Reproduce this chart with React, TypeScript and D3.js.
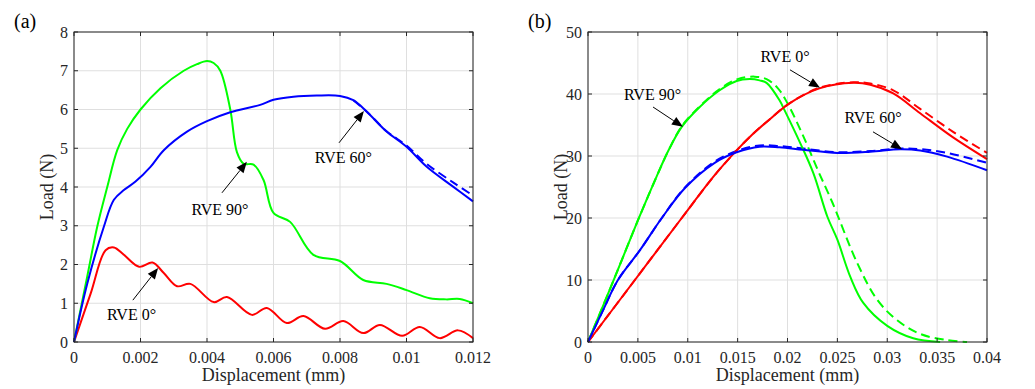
import * as d3 from "d3";

type P = [number, number];

// ---- panel (a): load vs displacement
const aRed: P[] = [
  [0, 0], [0.0005, 1.25], [0.00095, 2.37], [0.0012, 2.44], [0.0015, 2.25],
  [0.00196, 1.94], [0.00236, 2.05], [0.0027, 1.78], [0.0031, 1.44], [0.0035, 1.5],
  [0.0042, 1.03], [0.0046, 1.16], [0.00535, 0.7], [0.0058, 0.88], [0.0064, 0.49],
  [0.0069, 0.67], [0.00755, 0.34], [0.0081, 0.54], [0.0087, 0.23], [0.0092, 0.44],
  [0.00987, 0.16], [0.0104, 0.39], [0.011, 0.1], [0.01155, 0.3], [0.012, 0.1],
];
const aGreen: P[] = [
  [0, 0], [0.0004, 1.7], [0.0007, 2.98], [0.001, 4.0], [0.0013, 4.95], [0.0016, 5.5],
  [0.002, 6.0], [0.0026, 6.55], [0.0033, 7.0], [0.0037, 7.17], [0.004, 7.25],
  [0.0042, 7.2], [0.0044, 7.0], [0.0047, 6.0], [0.0049, 4.9], [0.0051, 4.6],
  [0.0054, 4.58], [0.0057, 4.18], [0.006, 3.33], [0.0065, 3.1], [0.0072, 2.25],
  [0.008, 2.09], [0.0087, 1.6], [0.0094, 1.5], [0.01, 1.34], [0.0107, 1.13],
  [0.0112, 1.1], [0.0116, 1.11], [0.012, 1.0],
];
const aBlue: P[] = [
  [0, 0], [0.0004, 1.51], [0.0009, 2.98], [0.0012, 3.67], [0.0015, 3.92], [0.00185, 4.14],
  [0.0023, 4.52], [0.0027, 4.95], [0.0034, 5.43], [0.004, 5.7], [0.0047, 5.93],
  [0.0056, 6.12], [0.006, 6.25], [0.0066, 6.33], [0.0073, 6.36], [0.008, 6.35],
  [0.0084, 6.24], [0.0088, 5.95], [0.0094, 5.43], [0.01, 5.04], [0.0106, 4.53],
  [0.0114, 4.01], [0.012, 3.63],
];
const aBlueDash: P[] = [
  [0.0084, 6.24], [0.0088, 5.95], [0.0094, 5.44], [0.01, 5.07], [0.0106, 4.6],
  [0.0114, 4.12], [0.012, 3.78],
];

// ---- panel (b)
const bGreen: P[] = [
  [0, 0], [0.0025, 9.7], [0.005, 19.6], [0.0068, 26.4], [0.0081, 31], [0.0094, 34.7],
  [0.0112, 37.9], [0.0132, 40.6], [0.0149, 42.1], [0.0162, 42.4], [0.0172, 42.2],
  [0.0179, 41.8], [0.0192, 39], [0.0197, 37.4], [0.0213, 32], [0.0226, 27.2],
  [0.024, 20.2], [0.025, 16.5], [0.0263, 10.5], [0.0276, 6.3], [0.03, 2.6],
  [0.0326, 0.6], [0.0353, 0],
];
const bGreenDash: P[] = [
  [0, 0], [0.0025, 9.7], [0.005, 19.6], [0.0068, 26.4], [0.0081, 31], [0.0094, 34.8],
  [0.0112, 38.0], [0.0132, 40.8], [0.015, 42.4], [0.0167, 42.8], [0.0179, 42.4],
  [0.019, 41], [0.02, 38.5], [0.0215, 33.5], [0.0231, 27.5], [0.0245, 22.5],
  [0.027, 12.7], [0.029, 6.8], [0.031, 3.5], [0.0333, 1.3], [0.036, 0.3], [0.038, 0],
];
const bBlue: P[] = [
  [0, 0], [0.0015, 5.1], [0.003, 10], [0.0052, 14.8], [0.0074, 20], [0.0097, 24.8],
  [0.0127, 28.9], [0.0149, 30.6], [0.0172, 31.5], [0.0192, 31.4], [0.0216, 31.0],
  [0.025, 30.5], [0.0283, 30.7], [0.0313, 31.1], [0.0333, 30.9], [0.036, 29.9],
  [0.04, 27.7],
];
const bBlueDash: P[] = [
  [0, 0], [0.0015, 5.1], [0.003, 10], [0.0052, 14.8], [0.0074, 20], [0.0097, 24.9],
  [0.0127, 29.1], [0.0149, 30.8], [0.0172, 31.7], [0.0192, 31.6], [0.0216, 31.2],
  [0.025, 30.6], [0.0283, 30.8], [0.0313, 31.2], [0.0333, 31.1], [0.036, 30.5],
  [0.04, 28.9],
];
const bRed: P[] = [
  [0, 0], [0.0047, 10], [0.0094, 20], [0.0127, 26.9], [0.0149, 30.9], [0.0165, 33.5],
  [0.0182, 35.9], [0.0202, 38.5], [0.0232, 40.9], [0.0266, 41.8], [0.0283, 41.5],
  [0.0306, 40.1], [0.0333, 36.9], [0.0366, 33], [0.04, 29.5],
];
const bRedDash: P[] = [
  [0, 0], [0.0047, 10], [0.0094, 20], [0.0127, 26.9], [0.0149, 30.9], [0.0165, 33.5],
  [0.0182, 35.9], [0.0202, 38.5], [0.0232, 41.0], [0.0266, 41.9], [0.0283, 41.7],
  [0.0306, 40.6], [0.0333, 37.6], [0.0366, 33.9], [0.04, 30.5],
];

const aXTicks = [0, 0.002, 0.004, 0.006, 0.008, 0.01, 0.012];
const aYTicks = [0, 1, 2, 3, 4, 5, 6, 7, 8];
const bXTicks = [0, 0.005, 0.01, 0.015, 0.02, 0.025, 0.03, 0.035, 0.04];
const bYTicks = [0, 10, 20, 30, 40, 50];

// annotation: label, text anchor point, arrow tail, arrow head (data units)
type Note = { text: string; at: P; from: P; to: P };
const aNotes: Note[] = [
  { text: "RVE 90°", at: [0.00439, 3.28], from: [0.00445, 3.85], to: [0.0052, 4.65] },
  { text: "RVE 60°", at: [0.0081, 4.62], from: [0.00797, 5.14], to: [0.00872, 5.96] },
  { text: "RVE 0°", at: [0.00173, 0.57], from: [0.00177, 1.08], to: [0.00253, 1.91] },
];
const bNotes: Note[] = [
  { text: "RVE 90°", at: [0.00647, 39.0], from: [0.00652, 37.9], to: [0.00952, 34.7] },
  { text: "RVE 0°", at: [0.01975, 45.2], from: [0.02025, 43.9], to: [0.02326, 41.0] },
  { text: "RVE 60°", at: [0.02857, 35.3], from: [0.02857, 33.9], to: [0.03148, 31.1] },
];

const FONT = "'Liberation Serif', 'Times New Roman', serif";
const GRID = "#dfdfdf";
const AXIS = "#262626";

type Series = { data: P[]; color: string; dashed?: boolean };

function Panel({
  left, top = 32, width = 399, height = 310, xMax, yMax, xTicks, yTicks, series, notes, tag,
}: {
  left: number; top?: number; width?: number; height?: number; xMax: number; yMax: number;
  xTicks: number[]; yTicks: number[]; series: Series[]; notes: Note[]; tag: string;
}) {
  const x = d3.scaleLinear([0, xMax], [left, left + width]);
  const y = d3.scaleLinear([0, yMax], [top + height, top]);
  const line = d3.line<P>(d => x(d[0]), d => Math.min(y(d[1]), top + height)).curve(d3.curveCatmullRom.alpha(0.5));
  const fmt = (v: number) => String(+v.toFixed(4));
  const bottom = top + height;
  const right = left + width;

  return (
    <g>
      <text x={left - 60} y={28} fontSize={20} fontFamily={FONT}>{tag}</text>
      {/* grid */}
      {xTicks.map((t, i) => (
        <line key={"gx" + i} x1={x(t)} x2={x(t)} y1={top} y2={bottom} stroke={GRID} strokeWidth={1} />
      ))}
      {yTicks.map((t, i) => (
        <line key={"gy" + i} x1={left} x2={right} y1={y(t)} y2={y(t)} stroke={GRID} strokeWidth={1} />
      ))}
      {/* series */}
      {series.map((s, i) => (
        <path key={i} d={line(s.data) ?? ""} fill="none" stroke={s.color} strokeWidth={2}
          strokeDasharray={s.dashed ? "9,5" : undefined} />
      ))}
      {/* box + ticks */}
      <rect x={left} y={top} width={width} height={height} fill="none" stroke={AXIS} strokeWidth={1} />
      {xTicks.map((t, i) => (
        <g key={"tx" + i}>
          <line x1={x(t)} x2={x(t)} y1={bottom} y2={bottom - 4} stroke={AXIS} />
          <line x1={x(t)} x2={x(t)} y1={top} y2={top + 4} stroke={AXIS} />
          <text x={x(t)} y={bottom + 21} textAnchor="middle" fontSize={16} fontFamily={FONT} fill={AXIS}>{fmt(t)}</text>
        </g>
      ))}
      {yTicks.map((t, i) => (
        <g key={"ty" + i}>
          <line x1={left} x2={left + 4} y1={y(t)} y2={y(t)} stroke={AXIS} />
          <line x1={right} x2={right - 4} y1={y(t)} y2={y(t)} stroke={AXIS} />
          <text x={left - 6} y={y(t) + 5.5} textAnchor="end" fontSize={16} fontFamily={FONT} fill={AXIS}>{fmt(t)}</text>
        </g>
      ))}
      <text x={(left + right) / 2} y={bottom + 39} textAnchor="middle" fontSize={18} fontFamily={FONT} fill={AXIS}>
        Displacement (mm)
      </text>
      <text transform={`translate(${left - 21},${(top + bottom) / 2}) rotate(-90)`} textAnchor="middle"
        fontSize={18} fontFamily={FONT} fill={AXIS}>Load (N)</text>
      {/* annotations */}
      {notes.map((n, i) => {
        const x1 = x(n.from[0]), y1 = y(n.from[1]), x2 = x(n.to[0]), y2 = y(n.to[1]);
        const ang = Math.atan2(y2 - y1, x2 - x1);
        const L = 11, W = 4.5;
        const bx = x2 - L * Math.cos(ang), by = y2 - L * Math.sin(ang);
        const px = -Math.sin(ang) * W, py = Math.cos(ang) * W;
        return (
          <g key={"n" + i}>
            <line x1={x1} y1={y1} x2={bx} y2={by} stroke="#000" strokeWidth={1} />
            <polygon points={`${x2},${y2} ${bx + px},${by + py} ${bx - px},${by - py}`} fill="#000" />
            <text x={x(n.at[0])} y={y(n.at[1])} textAnchor="middle" fontSize={16} fontFamily={FONT} fill="#000">{n.text}</text>
          </g>
        );
      })}
    </g>
  );
}

export default function App() {
  return (
    <svg width={1035} height={389} style={{ position: "absolute", left: 0, top: 0, background: "#fff" }}>
      <rect width={1035} height={389} fill="#fff" />
      <Panel left={74} xMax={0.012} yMax={8} xTicks={aXTicks} yTicks={aYTicks} tag="(a)" notes={aNotes}
        series={[
          { data: aBlueDash, color: "#0000ff", dashed: true },
          { data: aRed, color: "#ff0000" },
          { data: aGreen, color: "#00ff00" },
          { data: aBlue, color: "#0000ff" },
        ]} />
      <Panel left={588} xMax={0.04} yMax={50} xTicks={bXTicks} yTicks={bYTicks} tag="(b)" notes={bNotes}
        series={[
          { data: bGreenDash, color: "#00ff00", dashed: true },
          { data: bRedDash, color: "#ff0000", dashed: true },
          { data: bBlueDash, color: "#0000ff", dashed: true },
          { data: bGreen, color: "#00ff00" },
          { data: bRed, color: "#ff0000" },
          { data: bBlue, color: "#0000ff" },
        ]} />
    </svg>
  );
}
